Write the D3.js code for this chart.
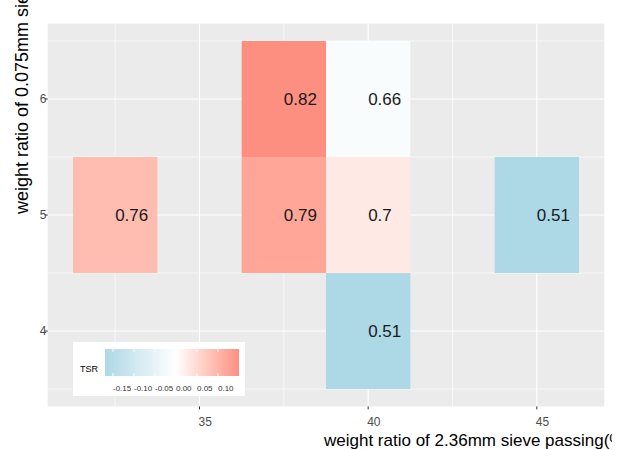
<!DOCTYPE html>
<html>
<head>
<meta charset="utf-8">
<script src="https://cdn.jsdelivr.net/npm/d3@7"></script>
<style>
  body { margin: 0; background: #fff; }
  svg { display: block; font-family: "Liberation Sans", Arial, sans-serif; }
</style>
</head>
<body>
<div id="plot"></div>
<script>
// data
var xVals = [32.5, 37.5, 40, 37.5, 40, 45, 40];
var yVals = [5, 6, 6, 5, 5, 5, 4];
var labels = ["0.76", "0.82", "0.66", "0.79", "0.7", "0.51", "0.51"];
var tsr = [0.09, 0.150, -0.012, 0.12, 0.03, -0.169, -0.169];
var xTicks = [35, 40, 45];
var yTicks = [4, 5, 6];
var legendTicks = [-0.15, -0.10, -0.05, 0.00, 0.05, 0.10];

var width = 627, height = 450;

var svg = d3.select("#plot")
    .append("svg")
    .attr("width", width)
    .attr("height", height);

var defs = svg.append("defs");
// the original device ends at ~612px wide, titles get cut there
defs.append("clipPath").attr("id", "device")
    .append("rect").attr("x", 0).attr("y", 0).attr("width", 612).attr("height", height);

var x = d3.scaleLinear().domain([30.5, 47]).range([47.7, 604.3]);
var y = d3.scaleLinear().domain([3.35, 6.65]).range([406.4, 23.6]);

// gradient2 style colour scale, mid at 0, interpolated in Lab
var lo = d3.min(tsr), hi = d3.max(tsr);
var maxAbs = Math.max(Math.abs(lo), Math.abs(hi));
var lowCol = "#ADD8E6", midCol = "#FFFFFF", highCol = "#FA8072";
function fillColor(v){
    var t = v / maxAbs / 2 + 0.5;
    if(t < 0.5) return d3.interpolateLab(lowCol, midCol)(t * 2);
    return d3.interpolateLab(midCol, highCol)((t - 0.5) * 2);
}

// panel background
svg.append("rect")
    .attr("x", x.range()[0]).attr("y", y.range()[1])
    .attr("width", x.range()[1] - x.range()[0])
    .attr("height", y.range()[0] - y.range()[1])
    .attr("fill", "#EBEBEB");

// grid lines (minor then major)
var xMinor = [32.5, 37.5, 42.5], yMinor = [3.5, 4.5, 5.5, 6.5];
var grid = svg.append("g");
grid.selectAll(".xmin").data(xMinor).enter().append("line")
    .attr("x1", function(d){ return x(d); }).attr("x2", function(d){ return x(d); })
    .attr("y1", y.range()[1]).attr("y2", y.range()[0])
    .attr("stroke", "#fff").attr("stroke-width", 0.6);
grid.selectAll(".ymin").data(yMinor).enter().append("line")
    .attr("y1", function(d){ return y(d); }).attr("y2", function(d){ return y(d); })
    .attr("x1", x.range()[0]).attr("x2", x.range()[1])
    .attr("stroke", "#fff").attr("stroke-width", 0.6);
grid.selectAll(".xmaj").data(xTicks).enter().append("line")
    .attr("x1", function(d){ return x(d); }).attr("x2", function(d){ return x(d); })
    .attr("y1", y.range()[1]).attr("y2", y.range()[0])
    .attr("stroke", "#fff").attr("stroke-width", 1.1);
grid.selectAll(".ymaj").data(yTicks).enter().append("line")
    .attr("y1", function(d){ return y(d); }).attr("y2", function(d){ return y(d); })
    .attr("x1", x.range()[0]).attr("x2", x.range()[1])
    .attr("stroke", "#fff").attr("stroke-width", 1.1);

// tiles
var idx = d3.range(xVals.length);
svg.append("g").selectAll("rect").data(idx).enter().append("rect")
    .attr("x", function(i){ return x(xVals[i] - 1.25); })
    .attr("y", function(i){ return y(yVals[i] + 0.5); })
    .attr("width", function(i){ return x(xVals[i] + 1.25) - x(xVals[i] - 1.25); })
    .attr("height", function(i){ return y(yVals[i] - 0.5) - y(yVals[i] + 0.5); })
    .attr("fill", function(i){ return fillColor(tsr[i]); });

// tile labels
svg.append("g").selectAll("text").data(idx).enter().append("text")
    .attr("x", function(i){ return x(xVals[i]); })
    .attr("y", function(i){ return y(yVals[i]) + 6; })
    .attr("font-size", 17)
    .attr("fill", "#1a1a1a")
    .text(function(i){ return labels[i]; });

// x axis
var xAxis = svg.append("g");
xAxis.selectAll("line").data(xTicks).enter().append("line")
    .attr("x1", function(d){ return x(d); }).attr("x2", function(d){ return x(d); })
    .attr("y1", y.range()[0]).attr("y2", y.range()[0] + 3)
    .attr("stroke", "#333").attr("stroke-width", 1);
xAxis.selectAll("text").data(xTicks).enter().append("text")
    .attr("x", function(d){ return x(d) - 1; })
    .attr("y", 426)
    .attr("font-size", 12).attr("fill", "#4D4D4D")
    .text(function(d){ return d; });

// y axis
var yAxis = svg.append("g");
yAxis.selectAll("line").data(yTicks).enter().append("line")
    .attr("y1", function(d){ return y(d); }).attr("y2", function(d){ return y(d); })
    .attr("x1", x.range()[0] - 3).attr("x2", x.range()[0])
    .attr("stroke", "#333").attr("stroke-width", 1);
yAxis.selectAll("text").data(yTicks).enter().append("text")
    .attr("x", 46.5).attr("y", function(d){ return y(d) + 4; })
    .attr("text-anchor", "end")
    .attr("font-size", 12).attr("fill", "#4D4D4D")
    .text(function(d){ return d; });

// axis titles (left aligned at panel centre)
svg.append("text")
    .attr("clip-path", "url(#device)")
    .attr("x", 324).attr("y", 446)
    .attr("font-size", 17).attr("fill", "#000")
    .text("weight ratio of 2.36mm sieve passing(%)");
svg.append("text")
    .attr("transform", "translate(28,214) rotate(-90)")
    .attr("font-size", 18).attr("fill", "#000")
    .text("weight ratio of 0.075mm sieve passing(%)");

// legend
var leg = svg.append("g");
leg.append("rect")
    .attr("x", 73).attr("y", 342).attr("width", 172).attr("height", 54)
    .attr("fill", "#fff");
leg.append("text")
    .attr("x", 80).attr("y", 372)
    .attr("font-size", 9).attr("fill", "#000")
    .text("TSR");

var lx = d3.scaleLinear().domain([lo, hi]).range([105, 239]);
var grad = defs.append("linearGradient")
    .attr("id", "tsrGrad").attr("x1", "0%").attr("x2", "100%");
d3.range(0, 1.0001, 0.02).forEach(function(f){
    grad.append("stop")
        .attr("offset", (f * 100) + "%")
        .attr("stop-color", fillColor(lo + f * (hi - lo)));
});
leg.append("rect")
    .attr("x", 105).attr("y", 349).attr("width", 134).attr("height", 27)
    .attr("fill", "url(#tsrGrad)");
leg.selectAll(".tk1").data(legendTicks).enter().append("line")
    .attr("x1", function(d){ return lx(d); }).attr("x2", function(d){ return lx(d); })
    .attr("y1", 349).attr("y2", 352)
    .attr("stroke", "#fff").attr("stroke-width", 1);
leg.selectAll(".tk2").data(legendTicks).enter().append("line")
    .attr("x1", function(d){ return lx(d); }).attr("x2", function(d){ return lx(d); })
    .attr("y1", 373).attr("y2", 376)
    .attr("stroke", "#fff").attr("stroke-width", 1);
leg.selectAll(".lab").data(legendTicks).enter().append("text")
    .attr("x", function(d){ return lx(d); })
    .attr("y", 391)
    .attr("font-size", 8).attr("fill", "#333")
    .text(function(d){ return d3.format(".2f")(d).replace("−", "-"); });
</script>
</body>
</html>
